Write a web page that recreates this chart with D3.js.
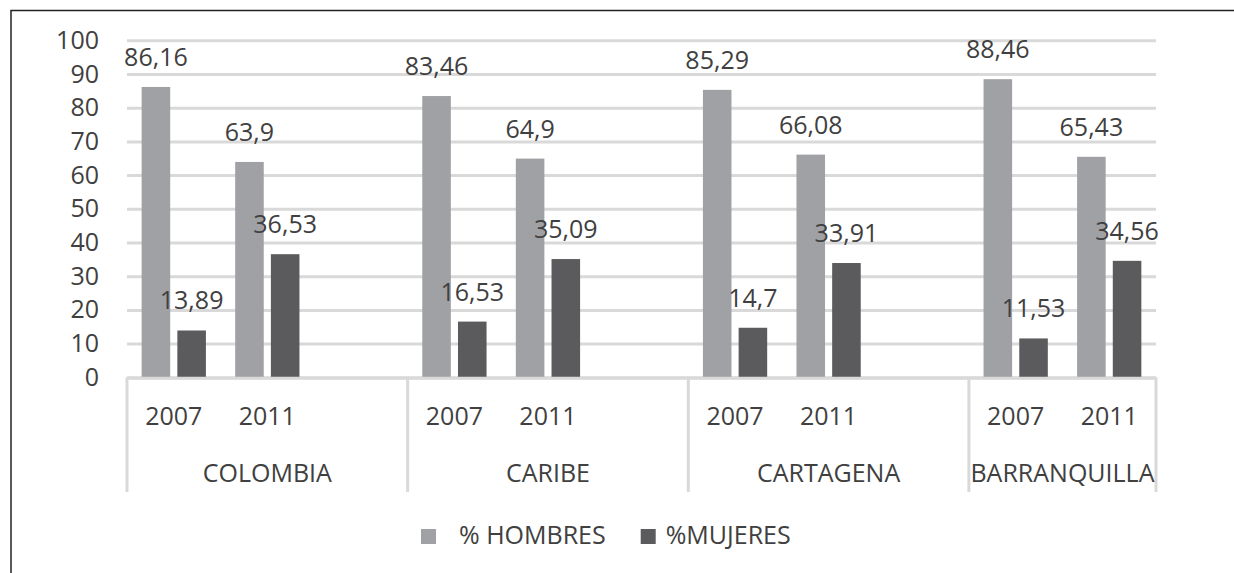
<!DOCTYPE html>
<html>
<head>
<meta charset="utf-8">
<script src="https://cdn.jsdelivr.net/npm/d3@7"></script>
<style>
  body { margin: 0; background: #fff; }
  svg text { font-family: "Open Sans", sans-serif; fill: #404040; }
</style>
</head>
<body>
<div id="chart"></div>
<script>
// data
var groups = ["COLOMBIA", "CARIBE", "CARTAGENA", "BARRANQUILLA"];
var years = ["2007", "2011"];
var seriesNames = ["  % HOMBRES", "%MUJERES"];
var hombres = [86.16, 63.9, 83.46, 64.9, 85.29, 66.08, 88.46, 65.43];
var mujeres = [13.89, 36.53, 16.53, 35.09, 14.7, 33.91, 11.53, 34.56];
var yTicks = [0, 10, 20, 30, 40, 50, 60, 70, 80, 90, 100];
var colors = ["#a0a1a5", "#5b5b5d"];

var w = 1234, h = 573;
var plotLeft = 127, plotRight = 1156, plotTop = 40.3, plotBottom = 377.3;
var fs = 25;

var svg = d3.select("#chart").append("svg")
  .attr("width", w)
  .attr("height", h);

// outer frame (only top and left edges fall inside the picture)
svg.append("rect")
  .attr("x", 11).attr("y", 10.5)
  .attr("width", 1400).attr("height", 800)
  .attr("fill", "none")
  .attr("stroke", "#222")
  .attr("stroke-width", 1.5);

// slots: each group gets its years, plus one empty slot except the last group
var slots = [];
var rows = [];
groups.forEach(function (g, gi) {
  years.forEach(function (yr, yi) {
    var k = g + "|" + yr;
    slots.push(k);
    rows.push({ key: k, group: g, year: yr, values: [hombres[gi * 2 + yi], mujeres[gi * 2 + yi]] });
  });
  if (gi < groups.length - 1) slots.push(g + "|blank");
});

var x = d3.scaleBand().domain(slots).range([plotLeft, plotRight]).padding(0);
var x1 = d3.scaleBand().domain([0, 1]).range([0, x.bandwidth()]).paddingInner(0.2).paddingOuter(0.41);
var y = d3.scaleLinear().domain([0, 100]).range([plotBottom, plotTop]);

// gridlines
var grid = svg.append("g")
  .attr("transform", "translate(" + plotLeft + ",0)")
  .call(d3.axisLeft(y).tickValues(yTicks).tickSize(-(plotRight - plotLeft)).tickFormat(""));
grid.select(".domain").remove();
grid.selectAll("line").attr("stroke", "#d9d9d9").attr("stroke-width", 3);

// y labels
var yAxis = svg.append("g")
  .attr("transform", "translate(" + plotLeft + ",0)")
  .call(d3.axisLeft(y).tickValues(yTicks).tickSize(0).tickPadding(28));
yAxis.select(".domain").remove();
yAxis.selectAll("text").attr("font-size", fs).style("font-family", "'Open Sans', sans-serif").attr("fill", "#404040");

// bars
var slotG = svg.selectAll(".slot")
  .data(rows)
  .enter().append("g")
  .attr("transform", function (d) { return "translate(" + x(d.key) + ",0)"; });

slotG.selectAll("rect")
  .data(function (d) { return d.values.map(function (v, i) { return { v: v, i: i }; }); })
  .enter().append("rect")
  .attr("x", function (d) { return x1(d.i); })
  .attr("width", x1.bandwidth())
  .attr("y", function (d) { return y(d.v); })
  .attr("height", function (d) { return y(0) - y(d.v); })
  .attr("fill", function (d) { return colors[d.i]; });

slotG.selectAll("text")
  .data(function (d) { return d.values.map(function (v, i) { return { v: v, i: i }; }); })
  .enter().append("text")
  .attr("x", function (d) { return x1(d.i) + x1.bandwidth() / 2; })
  .attr("y", function (d) { return y(d.v) - 21; })
  .attr("text-anchor", "middle")
  .attr("font-size", fs)
  .text(function (d) { return String(d.v).replace(".", ","); });

// category axis line
svg.append("line")
  .attr("x1", plotLeft).attr("x2", plotRight)
  .attr("y1", plotBottom + 1).attr("y2", plotBottom + 1)
  .attr("stroke", "#d9d9d9").attr("stroke-width", 3);

// year labels
svg.selectAll(".year")
  .data(rows)
  .enter().append("text")
  .attr("x", function (d) { return x(d.key) + x.bandwidth() / 2; })
  .attr("y", 425)
  .attr("text-anchor", "middle")
  .attr("font-size", fs)
  .text(function (d) { return d.year; });

// group separators and labels
var bounds = groups.map(function (g) {
  var ks = slots.filter(function (k) { return k.split("|")[0] === g; });
  return { g: g, x0: x(ks[0]), x1: x(ks[ks.length - 1]) + x.bandwidth() };
});

svg.selectAll(".sep")
  .data([bounds[0].x0].concat(bounds.map(function (b) { return b.x1; })))
  .enter().append("line")
  .attr("x1", function (d) { return d; }).attr("x2", function (d) { return d; })
  .attr("y1", plotBottom).attr("y2", 492)
  .attr("stroke", "#d9d9d9").attr("stroke-width", 3);

svg.selectAll(".grp")
  .data(bounds)
  .enter().append("text")
  .attr("x", function (d) { return (d.x0 + d.x1) / 2; })
  .attr("y", 482)
  .attr("text-anchor", "middle")
  .attr("font-size", fs)
  .text(function (d) { return d.g; });

// legend
var lx = 421;
seriesNames.forEach(function (name, i) {
  svg.append("rect")
    .attr("x", lx).attr("y", 529)
    .attr("width", 15).attr("height", 15)
    .attr("fill", colors[i]);
  var t = svg.append("text")
    .attr("x", lx + 25).attr("y", 544)
    .attr("font-size", fs)
    .style("white-space", "pre")
    .text(name);
  lx = lx + 25 + t.node().getComputedTextLength() + 35;
});
</script>
</body>
</html>
